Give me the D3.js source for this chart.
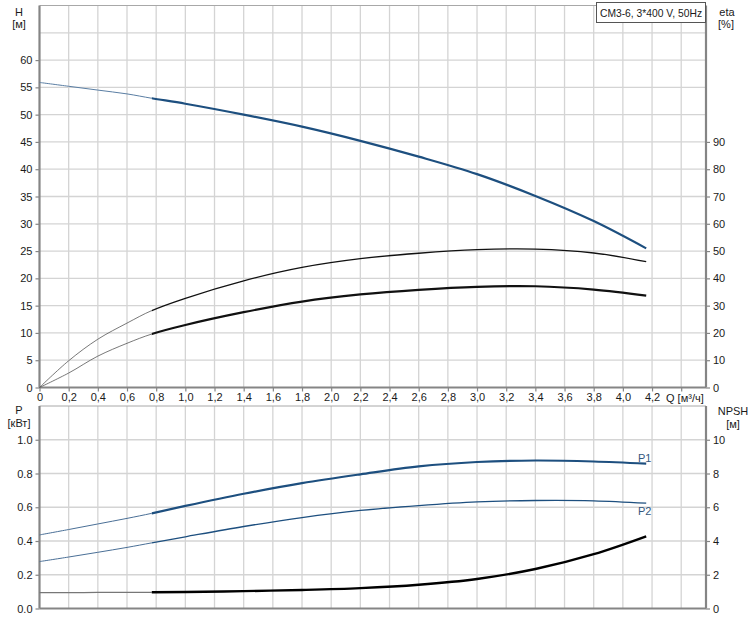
<!DOCTYPE html>
<html>
<head>
<meta charset="utf-8">
<script src="https://cdn.jsdelivr.net/npm/d3@7"></script>
<style>
  body { margin: 0; background: #fff; }
  text { font-family: "Liberation Sans", Arial, sans-serif; font-size: 11px; fill: #1a1a1a; }
</style>
</head>
<body>
<div id="chart"></div>
<script>
// flow points, m3/h
const qPoints = [0, 0.2, 0.4, 0.6, 0.77, 1.0, 1.4, 1.8, 2.2, 2.6, 3.0, 3.4, 3.8, 4.16];
// head H [m]
const headH = [55.9, 55.2, 54.5, 53.8, 53.0, 52.0, 50.0, 47.8, 45.2, 42.3, 39.1, 35.1, 30.5, 25.5];
// efficiencies [%]
const etaPump = [0, 9.8, 17.7, 23.6, 28.2, 32.7, 39.1, 44.0, 47.2, 49.2, 50.5, 50.7, 49.3, 46.1];
const etaTotal = [0, 5.3, 11.5, 16.2, 19.6, 22.9, 27.6, 31.5, 34.1, 35.8, 36.9, 37.1, 35.9, 33.7];
// power [kW]
const powerP1 = [0.436, 0.468, 0.501, 0.534, 0.564, 0.608, 0.680, 0.743, 0.795, 0.842, 0.868, 0.877, 0.871, 0.858];
const powerP2 = [0.278, 0.305, 0.333, 0.362, 0.389, 0.425, 0.486, 0.539, 0.581, 0.610, 0.632, 0.640, 0.638, 0.624];
// NPSH [m]
const npsh = [0.94, 0.94, 0.95, 0.95, 0.96, 0.98, 1.03, 1.10, 1.21, 1.41, 1.75, 2.34, 3.22, 4.28];

const qTicks = d3.range(0, 4.41, 0.2);
const hTicks = d3.range(0, 61, 5);
const etaTicks = d3.range(0, 91, 10);
const pTicks = d3.range(0, 1.01, 0.2);
const npshTicks = d3.range(0, 11, 2);
const qSplit = 0.77;
const title = 'CM3-6, 3*400 V, 50Hz';

const width = 750, height = 622;
const left = 39.5, right = 706;
const top1 = 5.5, bot1 = 387.5, top2 = 406, bot2 = 608.5;

const blue = '#1d4f7f';
const gridCol = '#d4d4d4';
const axisCol = '#858585';

const svg = d3.select('#chart').append('svg')
    .attr('width', width)
    .attr('height', height);

const x = d3.scaleLinear().domain([0, 4.57]).range([left, right]);
const yH = d3.scaleLinear().domain([0, 70]).range([bot1, top1]);
const yEta = d3.scaleLinear().domain([0, 140]).range([bot1, top1]);
const yP = d3.scaleLinear().domain([0, 1.2]).range([bot2, top2]);
const yN = d3.scaleLinear().domain([0, 12]).range([bot2, top2]);

const fmtComma = d => d === 0 ? '0' : d3.format('.1f')(d).replace('.', ',');

// clip regions: thin part left of qSplit, thick part right of it
const defs = svg.append('defs');
defs.append('clipPath').attr('id', 'clipThin').append('rect')
    .attr('x', 0).attr('y', 0).attr('width', x(qSplit)).attr('height', height);
defs.append('clipPath').attr('id', 'clipThick').append('rect')
    .attr('x', x(qSplit)).attr('y', 0).attr('width', width - x(qSplit)).attr('height', height);

function panel (y0, y1, yScale, yGrid) {
    const g = svg.append('g');
    g.selectAll('line.vg').data(qTicks.filter(d => d > 0)).enter().append('line')
        .attr('x1', d => x(d)).attr('x2', d => x(d))
        .attr('y1', y0).attr('y2', y1)
        .attr('stroke', gridCol).attr('stroke-width', 1.3);
    g.selectAll('line.hg').data(yGrid).enter().append('line')
        .attr('x1', left).attr('x2', right)
        .attr('y1', d => yScale(d)).attr('y2', d => yScale(d))
        .attr('stroke', gridCol).attr('stroke-width', 1.3);
    g.append('line').attr('x1', left).attr('x2', right).attr('y1', y0).attr('y2', y0)
        .attr('stroke', '#a8a8a8').attr('stroke-width', 1);
    return g;
}

panel(top1, bot1, yH, d3.range(5, 70, 5));
panel(top2, bot2, yP, d3.range(0.2, 1.2, 0.2));

function styleAxis (g) {
    g.select('.domain').remove();
    g.selectAll('.tick line').attr('stroke', axisCol).attr('stroke-width', 1.2);
    g.selectAll('.tick text').attr('fill', '#1a1a1a')
        .style('font-family', '"Liberation Sans", Arial, sans-serif').style('font-size', '11px');
}

svg.append('g').attr('transform', `translate(${left},0)`)
    .call(d3.axisLeft(yH).tickValues(hTicks).tickSize(4).tickPadding(3)).call(styleAxis);
svg.append('g').attr('transform', `translate(${right},0)`)
    .call(d3.axisRight(yEta).tickValues(etaTicks).tickSize(4).tickPadding(3)).call(styleAxis);
svg.append('g').attr('transform', `translate(0,${bot1})`)
    .call(d3.axisBottom(x).tickValues(qTicks).tickSize(4).tickPadding(2)
        .tickFormat(d => d > 4.3 ? '' : fmtComma(d))).call(styleAxis);
svg.append('g').attr('transform', `translate(${left},0)`)
    .call(d3.axisLeft(yP).tickValues(pTicks).tickSize(4).tickPadding(3)
        .tickFormat(d3.format('.1f'))).call(styleAxis);
svg.append('g').attr('transform', `translate(${right},0)`)
    .call(d3.axisRight(yN).tickValues(npshTicks).tickSize(4).tickPadding(3)).call(styleAxis);

// frame lines
[[left, top1, left, bot1], [right, top1, right, bot1], [left, bot1, right, bot1],
 [left, top2, left, bot2], [right, top2, right, bot2], [left, bot2, right, bot2]].forEach(l => {
    svg.append('line').attr('x1', l[0]).attr('y1', l[1]).attr('x2', l[2]).attr('y2', l[3])
        .attr('stroke', axisCol).attr('stroke-width', 2.2);
});

// curves: same smooth path drawn thin (low flow) and thick (operating range)
function drawCurve (values, yScale, color, thinW, thickW, thinColor) {
    const pts = qPoints.map((q, i) => ({ q, v: values[i] }));
    const line = d3.line().x(d => x(d.q)).y(d => yScale(d.v)).curve(d3.curveCatmullRom.alpha(0.5));
    const d = line(pts);
    svg.append('path').attr('d', d).attr('clip-path', 'url(#clipThin)')
        .attr('fill', 'none').attr('stroke', thinColor || color).attr('stroke-width', thinW);
    svg.append('path').attr('d', d).attr('clip-path', 'url(#clipThick)')
        .attr('fill', 'none').attr('stroke', color).attr('stroke-width', thickW);
}

drawCurve(headH, yH, blue, 1, 2.2, '#5a7ea3');
drawCurve(etaPump, yEta, '#111', 0.8, 1.3, '#555');
drawCurve(etaTotal, yEta, '#111', 0.8, 2.2, '#555');
drawCurve(powerP1, yP, blue, 1, 2.2, '#4a6f96');
drawCurve(powerP2, yP, blue, 1, 1.3, '#4a6f96');
drawCurve(npsh, yN, '#000', 1.2, 2.4, '#777');

// labels
const lbl = (t, xx, yy, anchor, col) => svg.append('text').attr('x', xx).attr('y', yy)
    .attr('text-anchor', anchor || 'middle').style('fill', col || '#1a1a1a').text(t);
lbl('H', 19, 16);
lbl('[м]', 19, 28);
lbl('eta', 727, 16);
lbl('[%]', 726, 28);
lbl('P', 19, 414);
lbl('[кВт]', 19, 427);
lbl('NPSH', 733, 415);
lbl('[м]', 733, 428);
lbl('Q [м³/ч]', 666, 402, 'start');
lbl('P1', 638, 462, 'start', '#34577d');
lbl('P2', 638, 515, 'start', '#34577d');

// title box
svg.append('rect').attr('x', 596.5).attr('y', 2.5).attr('width', 109).attr('height', 20)
    .attr('fill', '#fff').attr('stroke', '#555').attr('stroke-width', 1);
lbl(title, 651, 16.5).style('font-size', '10.3px');
</script>
</body>
</html>
